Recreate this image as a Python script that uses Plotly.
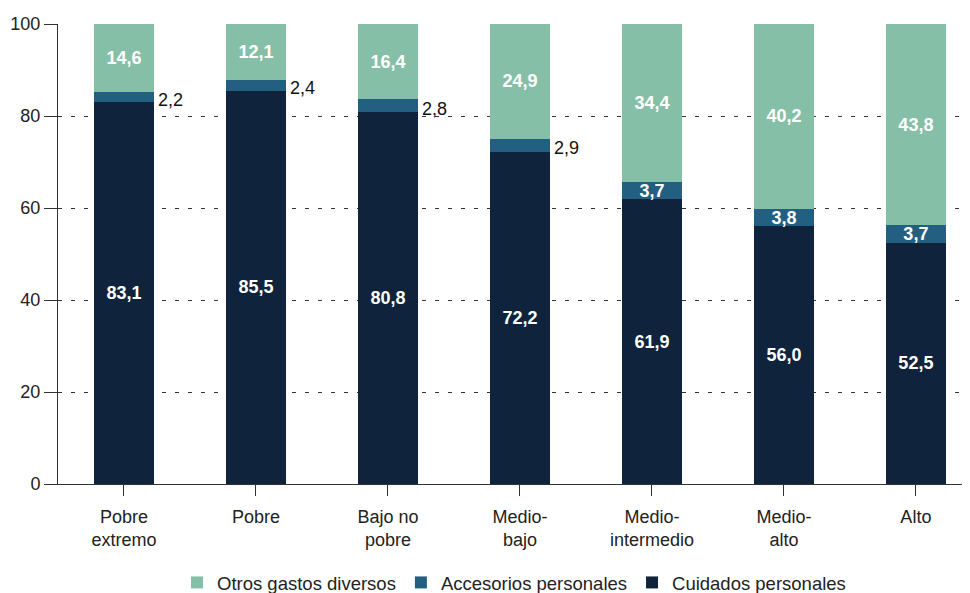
import plotly.graph_objects as go

categorias = ["Pobre<br>extremo", "Pobre", "Bajo no<br>pobre", "Medio-<br>bajo",
              "Medio-<br>intermedio", "Medio-<br>alto", "Alto"]
cuidados = [83.1, 85.5, 80.8, 72.2, 61.9, 56.0, 52.5]
accesorios = [2.2, 2.4, 2.8, 2.9, 3.7, 3.8, 3.7]
otros = [14.6, 12.1, 16.4, 24.9, 34.4, 40.2, 43.8]
y_ticks = [0, 20, 40, 60, 80, 100]

c_cuid = "#0F243C"
c_acc = "#235F80"
c_otros = "#86BFA7"

FONT = "Liberation Sans, Arial, sans-serif"


def fmt(v):
    return f"{v:.1f}".replace(".", ",")


x = list(range(len(categorias)))
inside_acc = [a >= 3.5 for a in accesorios]
lbl_font = dict(color="white", size=18, family=FONT, weight="bold")

fig = go.Figure()
fig.add_trace(go.Bar(
    x=x, y=cuidados, name="Cuidados personales", marker=dict(color=c_cuid, line=dict(width=0)),
    text=[fmt(v) for v in cuidados], textposition="inside", insidetextanchor="middle",
    textfont=lbl_font, width=0.45,
))
fig.add_trace(go.Bar(
    x=x, y=accesorios, name="Accesorios personales", marker=dict(color=c_acc, line=dict(width=0)),
    text=[fmt(v) if ins else "" for v, ins in zip(accesorios, inside_acc)],
    textposition="inside", insidetextanchor="middle",
    textfont=lbl_font, width=0.45,
))
fig.add_trace(go.Bar(
    x=x, y=otros, name="Otros gastos diversos", marker=dict(color=c_otros, line=dict(width=0)),
    text=[fmt(v) for v in otros], textposition="inside", insidetextanchor="middle",
    textfont=lbl_font, width=0.45,
))

for i, (c, a, ins) in enumerate(zip(cuidados, accesorios, inside_acc)):
    if not ins:
        fig.add_annotation(
            x=i + 0.225, y=c + a / 2, text=fmt(a), showarrow=False,
            xanchor="left", yanchor="middle", xshift=2, yshift=-3,
            font=dict(size=18, color="#111", family=FONT),
        )

fig.update_layout(
    barmode="stack",
    width=962, height=585,
    margin=dict(l=50, r=0, t=16, b=109, autoexpand=False),
    plot_bgcolor="white", paper_bgcolor="white",
    font=dict(family=FONT, size=18, color="#222"),
    uniformtext=dict(minsize=18, mode="show"),
    showlegend=True,
    legend=dict(
        orientation="h", x=0.5, xanchor="center", y=-0.215, yanchor="middle",
        traceorder="reversed", font=dict(size=18.5, color="#222"),
        itemwidth=30,
    ),
    bargap=0.55,
)
fig.update_xaxes(
    tickmode="array", tickvals=x, ticktext=categorias, automargin=False,
    range=[-0.5, 6.41], showline=True, linecolor="#333", linewidth=1,
    ticks="outside", tickson="boundaries", ticklen=11, tickcolor="#333",
    ticklabelstandoff=5,
    showgrid=False, zeroline=False, fixedrange=True,
)
fig.update_yaxes(
    range=[0, 100], tickvals=y_ticks, showline=True, linecolor="#333", linewidth=1,
    ticks="outside", ticklen=13, tickcolor="#333", automargin=False,
    showgrid=True, gridcolor="#333", griddash="4px,9px", gridwidth=1.2,
    zeroline=False, fixedrange=True,
)

fig.write_html("out.html")
